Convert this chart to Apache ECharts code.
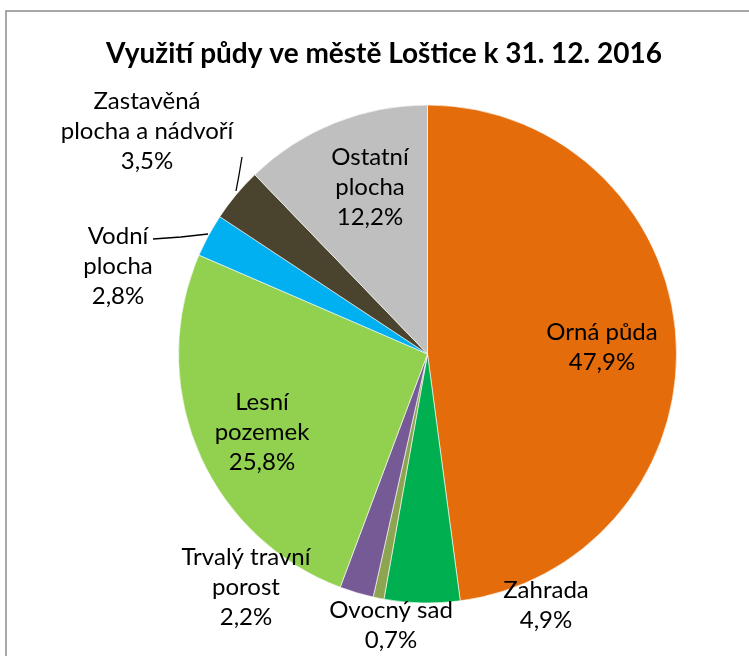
<!DOCTYPE html>
<html>
<head>
<meta charset="utf-8">
<script src="https://cdn.jsdelivr.net/npm/echarts@6/dist/echarts.min.js"></script>
<style>
  html, body { margin: 0; padding: 0; background: #fff; }
  #chart { width: 749px; height: 656px; }
</style>
</head>
<body>
<div id="chart"></div>
<script>
// Využití půdy – Loštice, 31. 12. 2016 (podíl v %)
const categories = ['Orná půda', 'Zahrada', 'Ovocný sad', 'Trvalý travní porost',
    'Lesní pozemek', 'Vodní plocha', 'Zastavěná plocha a nádvoří', 'Ostatní plocha'];
const shares = [47.9, 4.9, 0.7, 2.2, 25.8, 2.8, 3.5, 12.2];
const labelNames = ['Orná půda', 'Zahrada', 'Ovocný sad', 'Trvalý travní\nporost',
    'Lesní\npozemek', 'Vodní\nplocha', 'Zastavěná\nplocha a nádvoří', 'Ostatní\nplocha'];
const colors = ['#E46C0A', '#00B050', '#8DA550', '#765A96',
    '#92D050', '#00B0F0', '#4A432D', '#BFBFBF'];
const insideLabels = [0, 4, 7];

// umístění popisků (střed bloku textu) a vodicí čáry
const labelPos = [[602, 347], [546, 605], [391, 625], [246, 587],
    [262, 432], [118, 266], [147, 131], [370, 187]];
const leaderLines = {
    5: [[208, 234], [181, 237], [153, 239]],
    6: [[236, 191], [239, 175], [242, 157]]
};

const FONT = 'Lato, "Noto Sans", sans-serif';
const chart = echarts.init(document.getElementById('chart'));

chart.setOption({
    backgroundColor: '#fff',
    animation: false,
    title: {
        text: 'Využití půdy ve městě Loštice k 31. 12. 2016',
        left: 379,
        textAlign: 'center',
        top: 35,
        textStyle: { fontFamily: FONT, fontSize: 28, fontWeight: 'bold', color: '#000' }
    },
    graphic: [{
        type: 'rect',
        shape: { x: 6, y: 11, width: 760, height: 680 },
        style: { fill: 'none', stroke: '#8c8c8c', lineWidth: 1.5 },
        silent: true
    }],
    series: [{
        type: 'pie',
        center: [427.5, 354],
        radius: [0, 249],
        startAngle: 90,
        clockwise: true,
        avoidLabelOverlap: false,
        itemStyle: { borderColor: '#fff', borderWidth: 0.6 },
        label: {
            show: true,
            position: 'outside',
            overflow: 'none',
            fontFamily: FONT,
            fontSize: 24,
            lineHeight: 30,
            color: '#000',
            align: 'center',
            formatter: p => labelNames[p.dataIndex] + '\n' +
                p.value.toFixed(1).replace('.', ',') + '%'
        },
        labelLine: { show: false, lineStyle: { color: '#000', width: 1.3 } },
        labelLayout: p => {
            const out = {
                x: labelPos[p.dataIndex][0],
                y: labelPos[p.dataIndex][1],
                align: 'center',
                verticalAlign: 'middle'
            };
            if (leaderLines[p.dataIndex]) out.labelLinePoints = leaderLines[p.dataIndex];
            return out;
        },
        data: categories.map((name, i) => ({
            name: name,
            value: shares[i],
            itemStyle: { color: colors[i] },
            label: insideLabels.includes(i) ? { position: 'inside' } : {},
            labelLine: { show: !!leaderLines[i] }
        }))
    }]
});
</script>
</body>
</html>
